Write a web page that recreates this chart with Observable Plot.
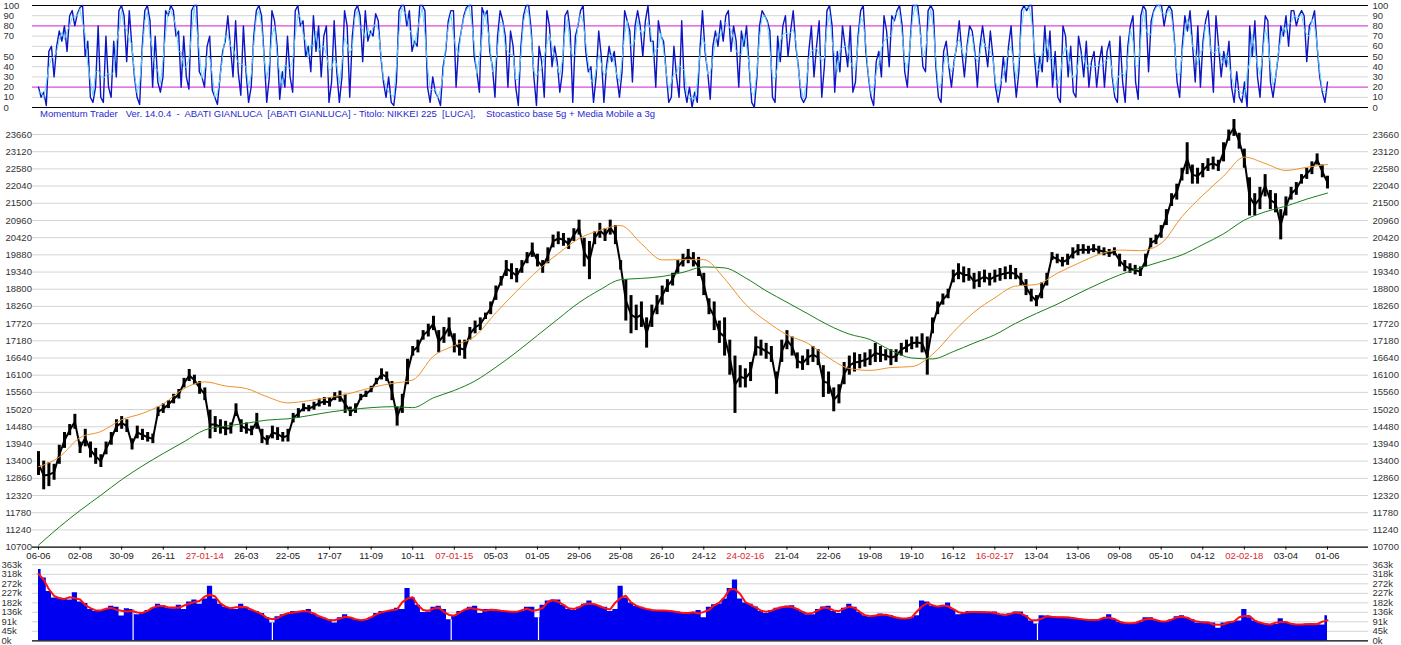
<!DOCTYPE html>
<html><head><meta charset="utf-8">
<script src="https://cdn.jsdelivr.net/npm/d3@7"></script>
<script src="https://cdn.jsdelivr.net/npm/@observablehq/plot@0.6"></script>
<style>
html,body{margin:0;padding:0;background:#fff;}
#wrap{position:relative;width:1401px;height:645px;overflow:hidden;font-family:"Liberation Sans",Arial,sans-serif;}
#wrap > svg{position:absolute;left:0;}
</style></head><body><div id="wrap"></div>
<script>
// ---------- DATA ----------
const xTickLabels = ["06-06","02-08","30-09","26-11","27-01-14","26-03","22-05","17-07","11-09","10-11","07-01-15","05-03","01-05","29-06","25-08","26-10","24-12","24-02-16","21-04","22-06","19-08","19-10","16-12","16-02-17","13-04","13-06","09-08","05-10","04-12","02-02-18","03-04","01-06"];
const yearLabels = ["27-01-14","07-01-15","24-02-16","16-02-17","02-02-18"];
const daysPerTick = 40;
const totalDays = 1240;

const priceTicks = [10700,11240,11780,12320,12860,13400,13940,14480,15020,15560,16100,16640,17180,17720,18260,18800,19340,19880,20420,20960,21500,22040,22580,23120,23660];
const stochLeftLabels = [100,90,80,70,50,40,30,20,10,0];
const stochRightLabels = [100,90,80,70,60,50,40,30,20,10,0];
const stochGrey = [10,30,40,60,70,90];
const stochMagenta = [20,80];
const stochBlack = [0,50,100];
const volTickLabels = ["0k","45k","91k","136k","182k","227k","272k","318k","363k"];
const volMax = 363;

// weekly high / low (every 5 trading days)
const priceHi = [
13700,13400,13350,13300,13900,14300,14550,14870,14000,14400,
14000,13800,13600,14000,14300,14700,14800,14700,14100,14500,
14400,14300,14250,15100,15200,15300,15500,15650,16000,16280,
16100,15900,15700,15000,14800,14700,14650,14600,15200,14700,
14600,14500,14900,14400,14200,14500,14450,14300,14400,14900,
15050,15200,15150,15250,15350,15400,15400,15550,15600,15500,
15100,15200,15500,15600,15750,16000,16300,16200,15900,15100,
15500,16600,17000,17200,17500,17700,17950,17500,17600,17900,
17400,17200,17200,17600,17800,17900,18050,18400,18900,19200,
19700,19600,19450,19700,19950,20250,19900,19700,20100,20500,
20600,20550,20400,20700,20970,20400,20300,20600,20870,20700,
20970,20800,19700,19100,18600,18300,18400,17900,18300,18600,
18900,19100,19300,19700,19900,20050,19950,19800,19300,18500,
18400,17800,17900,17200,16700,16400,16300,16500,17300,17200,
17100,17000,16200,17200,17500,17300,16800,16700,16900,17000,
16900,16400,16200,15700,15800,16500,16700,16800,16750,16800,
16900,17100,17000,16900,16900,16900,17100,17200,17300,17300,
17400,17300,17900,18400,18650,18800,19400,19600,19500,19450,
19300,19350,19400,19300,19400,19450,19500,19550,19450,19300,
19100,18800,18600,19000,19300,19950,19900,19800,19900,20100,
20200,20200,20150,20200,20150,20100,20050,20100,19900,19700,
19600,19550,19500,19900,20400,20500,20800,21300,21800,22100,
22600,23400,22700,22600,22750,22900,22950,22850,23400,23800,
24130,23700,23200,22300,21800,22000,22400,21900,21800,21300,
21700,22000,22150,22400,22600,22800,23050,22700,22350];
const priceLo = [
12950,12500,12600,12800,13300,13800,14200,14400,13640,13850,
13500,13300,13200,13600,13900,14300,14400,14300,13750,14100,
14050,14000,13950,14800,14900,15050,15200,15350,15700,15900,
15800,15500,15300,14100,14300,14250,14200,14250,14800,14300,
14250,14200,14400,13950,13900,14100,14050,14000,14000,14600,
14750,14950,14950,15000,15100,15150,15100,15300,15250,14900,
14800,14900,15300,15400,15550,15800,15950,15900,15300,14500,
14900,15800,16700,16800,17200,17300,17500,16800,17100,17300,
16800,16700,16600,17200,17400,17500,17850,18000,18450,18900,
19200,19100,19000,19300,19600,19800,19500,19300,19600,20100,
20200,20150,20050,20300,20500,19500,19100,20200,20400,20300,
20500,20200,19400,17800,17400,17500,17600,16950,17600,18000,
18300,18700,18900,19300,19500,19600,19500,19200,18600,18000,
17500,17100,16700,16100,14900,15700,15700,15900,16700,16700,
16600,16500,15500,16500,16900,16700,16300,16250,16400,16500,
16400,15400,15500,14950,15200,15800,16100,16200,16300,16350,
16400,16500,16500,16550,16400,16500,16700,16800,16900,16950,
16800,16100,17400,18000,18300,18500,19000,19100,19000,19050,
18800,18850,19000,18900,19000,19050,19100,19100,19100,18900,
18600,18400,18250,18500,18900,19700,19600,19500,19550,19750,
19850,19900,19900,19950,19900,19850,19800,19850,19500,19350,
19300,19250,19200,19500,20100,20200,20400,20800,21400,21600,
22200,22400,22100,22100,22300,22500,22550,22500,22800,23450,
23600,23200,22600,21100,21100,21300,21700,21300,21200,20350,
21100,21600,21750,22100,22250,22400,22700,22300,21950];

// moving averages, every 20 trading days
const orangeMA = [
13220,13530,14140,14330,14700,14900,15200,15680,15890,15760,
15680,15420,15230,15300,15400,15530,15710,15840,15950,16700,
17030,17330,18060,18740,19380,19920,20390,20650,20800,20230,
19720,19730,19730,19130,18330,17800,17370,17100,16650,16310,
16250,16340,16370,16750,17450,18080,18530,18900,18950,19300,
19610,19890,20030,20010,20240,21080,21750,22350,22950,22750,
22530,22630,22720];
const greenMA = [
10760,11330,11850,12330,12820,13250,13640,14010,14380,14500,
14590,14690,14730,14830,14940,15020,15080,15110,15080,15390,
15620,15920,16350,16830,17350,17870,18380,18780,19100,19140,
19200,19330,19500,19470,19160,18750,18390,18030,17670,17390,
17220,16880,16640,16610,16840,17110,17370,17730,18040,18330,
18660,18970,19250,19470,19670,19880,20200,20540,20970,21230,
21410,21630,21820];

// stochastic %K, regularly sampled over the whole period
const stochK = [
20,10,15,2,55,60,30,60,75,65,80,55,90,95,80,92,98,100,50,65,10,5,20,80,10,5,70,20,10,65,30,95,100,90,45,95,60,30,10,3,
60,95,100,85,20,70,25,15,30,95,90,100,95,70,75,20,70,30,18,95,100,100,35,30,20,60,70,17,10,3,30,55,65,90,60,30,85,35,12,80,
35,5,20,70,95,100,90,50,5,30,95,85,60,8,35,20,70,30,15,95,100,80,85,50,60,35,90,55,80,30,70,80,5,25,85,35,5,30,95,80,
10,70,95,100,90,45,95,65,75,70,92,85,50,25,10,30,5,2,25,95,100,100,80,95,55,65,60,100,100,95,20,5,30,15,10,2,40,55,85,95,95,
20,60,75,90,98,100,100,50,35,15,98,90,95,55,40,10,70,95,85,70,20,75,60,20,2,60,90,100,100,75,30,2,60,45,10,95,80,40,60,45,
15,35,90,95,75,5,70,80,95,100,55,35,40,5,30,75,50,5,40,60,45,55,30,10,35,95,85,75,25,80,95,80,50,85,100,65,65,20,85,70,
65,35,5,10,60,30,10,85,20,5,20,0,15,5,55,95,55,35,8,60,75,60,85,65,90,95,55,80,65,20,75,60,80,40,5,0,30,80,95,90,85,75,
10,5,70,45,80,90,50,75,95,60,40,10,5,10,55,80,30,60,85,10,40,95,100,80,15,55,35,80,60,40,80,15,25,70,95,100,55,30,10,2,
45,55,30,90,75,40,90,85,95,100,80,35,20,60,100,100,100,75,40,35,95,100,95,40,10,5,55,65,40,20,45,60,85,55,30,60,80,75,55,20,
60,80,60,40,75,50,20,5,20,50,25,60,80,40,10,35,95,100,95,100,100,50,20,50,35,80,45,75,20,55,10,5,80,70,30,60,15,10,70,55,
30,65,20,45,55,
20,45,60,20,55,65,30,10,5,70,25,5,60,80,90,25,8,90,100,95,35,85,95,100,100,100,80,95,100,95,65,25,10,60,90,75,95,60,25,80,
20,65,85,95,55,15,90,60,30,55,40,65,20,5,35,10,5,25,0,80,50,85,30,10,55,90,85,25,10,30,50,80,70,90,60,95,95,80,90,95,
90,45,80,85,95,60,30,15,5,25];

// weekly volume (thousands)
const volume = [
340,300,235,205,205,200,195,230,185,178,
150,140,145,150,165,160,118,153,150,125,
130,145,155,175,168,155,153,170,150,185,
195,175,200,260,200,175,160,155,150,175,
160,145,140,130,110,85,115,125,130,140,
137,140,150,128,115,108,100,85,110,125,
110,100,98,98,110,130,140,140,145,155,
150,250,205,170,135,137,160,165,150,100,
120,140,145,160,165,130,150,150,145,145,
140,138,137,140,160,160,110,170,190,195,
195,170,150,145,160,175,190,170,165,160,
140,150,260,205,180,165,160,150,145,145,
145,145,140,137,132,130,135,145,110,160,
172,176,200,250,290,200,180,175,161,140,
130,145,155,160,165,168,150,138,125,125,
150,162,165,140,130,155,175,160,135,120,
113,120,128,125,120,110,105,105,110,120,
190,185,165,160,165,180,150,125,135,140,
137,137,137,135,137,125,120,130,137,137,
120,95,80,120,118,113,113,113,113,108,
105,102,100,97,100,105,125,100,89,85,
81,85,89,110,110,97,92,89,100,115,
120,110,100,85,90,89,85,60,85,89,
92,95,150,110,95,85,81,75,78,105,
85,80,78,75,80,82,80,75,120];
const zeroVolumeDays = [91,225,397,481,961];

// ---------- TABLES ----------
const weekly = priceHi.map((h, i) => ({day: i * 5, hi: h, lo: priceLo[i], vol: volume[i]}));
const maRows = orangeMA.map((o, i) => ({day: i * 20, orange: o, green: greenMA[i]}));
const stochStep = totalDays / (stochK.length - 1);
const stochRows = stochK.map((k, i) => ({day: i * stochStep, k}));
const tickDays = xTickLabels.map((_, i) => i * daysPerTick);
const labelOf = d => xTickLabels[Math.round(d / daysPerTick)];
const blackTickDays = tickDays.filter(d => !yearLabels.includes(labelOf(d)));
const redTickDays = tickDays.filter(d => yearLabels.includes(labelOf(d)));
const volTicks = volTickLabels.map((l, i) => ({v: i * volMax / 8, l}));

// ---------- LAYOUT ----------
const W = 1401, ML = 32, MR = 33;
const pxPerDay = (1327 - 38) / totalDays;
const xDomain = [-(38 - ML) / pxPerDay, totalDays + (W - MR - 1327) / pxPerDay];
const font = "Liberation Sans, Arial, sans-serif";
const baseStyle = {background: "transparent", fontFamily: font, fontSize: "10px", overflow: "visible"};
const wrap = document.getElementById("wrap");

// Stochastic panel
const stoch = Plot.plot({
  width: W, height: 112, marginLeft: ML, marginRight: MR, marginTop: 5, marginBottom: 5,
  x: {domain: xDomain, axis: null},
  y: {domain: [0, 100], axis: null},
  style: baseStyle,
  marks: [
    Plot.ruleY(stochGrey, {stroke: "#d4d4d4"}),
    Plot.ruleY(stochMagenta, {stroke: "#d21ed2"}),
    Plot.ruleY(stochBlack, {stroke: "#000"}),
    Plot.line(stochRows, {x: "day", y: "k", stroke: "#0c16c4", strokeWidth: 1.4}),
    Plot.line(stochRows, Plot.windowY({k: 3, anchor: "middle"}, {x: "day", y: "k", stroke: "#62d8f6", strokeWidth: 1, strokeDasharray: "4,1"})),
    Plot.text(stochLeftLabels, {y: d => d, text: d => String(d), frameAnchor: "left", textAnchor: "start", dx: -29, fontSize: 9.5, fill: "#333"}),
    Plot.text(stochRightLabels, {y: d => d, text: d => String(d), frameAnchor: "right", textAnchor: "start", dx: 4, fontSize: 9.5, fill: "#333"})
  ]
});
stoch.style.top = "0px";

// Price panel
const price = Plot.plot({
  width: W, height: 446, marginLeft: ML, marginRight: MR, marginTop: 18, marginBottom: 15.4,
  x: {domain: xDomain},
  y: {domain: [10700, 23660], axis: null},
  style: baseStyle,
  marks: [
    Plot.ruleY(priceTicks.slice(1), {stroke: "#d4d4d4"}),
    Plot.ruleX(weekly, {x: "day", y1: "lo", y2: "hi", stroke: "#000", strokeWidth: 3}),
    Plot.line(weekly, {x: "day", y: d => (d.lo + d.hi) / 2, stroke: "#000", strokeWidth: 2}),
    Plot.line(maRows, {x: "day", y: "green", stroke: "#1a7d1a", strokeWidth: 1, curve: "monotone-x"}),
    Plot.line(maRows, {x: "day", y: "orange", stroke: "#f0902a", strokeWidth: 1, curve: "monotone-x"}),
    Plot.ruleY([10700], {stroke: "#000", strokeWidth: 1.2}),
    Plot.axisX({ticks: blackTickDays, tickFormat: labelOf, tickSize: 3, tickPadding: 2, fontSize: 9.5, label: null, stroke: "#000", fill: "#222"}),
    Plot.axisX({ticks: redTickDays, tickFormat: labelOf, tickSize: 3, tickPadding: 2, fontSize: 9.5, label: null, stroke: "#000", fill: "#e0282c"}),
    Plot.text(priceTicks, {y: d => d, text: d => String(d), frameAnchor: "left", textAnchor: "start", dx: -27, fontSize: 9.5, fill: "#333"}),
    Plot.text(priceTicks, {y: d => d, text: d => String(d), frameAnchor: "right", textAnchor: "start", dx: 4, fontSize: 9.5, fill: "#333"})
  ]
});
price.style.top = "116px";

// Volume panel
const vol = Plot.plot({
  width: W, height: 85, marginLeft: ML, marginRight: MR, marginTop: 4.3, marginBottom: 4.7,
  x: {domain: xDomain, axis: null},
  y: {domain: [0, volMax], axis: null},
  style: baseStyle,
  marks: [
    Plot.ruleY(volTicks.slice(1), {y: "v", stroke: "#d4d4d4"}),
    Plot.areaY(weekly, {x: "day", y: "vol", fill: "#0000f0", curve: "step"}),
    Plot.ruleX(zeroVolumeDays, {x: d => d, y1: 0, y2: d => volume[Math.round(d / 5)], stroke: "#fff", strokeWidth: 1.2}),
    Plot.line(weekly, Plot.windowY({k: 3, anchor: "middle"}, {x: "day", y: "vol", stroke: "#ff1010", strokeWidth: 2})),
    Plot.ruleY([0], {stroke: "#000", strokeWidth: 1.2}),
    Plot.text(volTicks, {y: "v", text: "l", frameAnchor: "left", textAnchor: "start", dx: -31, fontSize: 9.5, fill: "#333"}),
    Plot.text(volTicks, {y: "v", text: "l", frameAnchor: "right", textAnchor: "start", dx: 4, fontSize: 9.5, fill: "#333"})
  ]
});
vol.style.top = "560px";

wrap.appendChild(vol);
wrap.appendChild(price);
wrap.appendChild(stoch);

// Subtitle line
const ns = "http://www.w3.org/2000/svg";
const sub = document.createElementNS(ns, "svg");
sub.setAttribute("width", W); sub.setAttribute("height", 125);
sub.style.top = "0px";
const t = document.createElementNS(ns, "text");
t.setAttribute("x", 40); t.setAttribute("y", 117);
t.setAttribute("font-family", font); t.setAttribute("font-size", "9.5");
t.setAttribute("fill", "#2828d2");
t.setAttribute("textLength", 615); t.setAttribute("lengthAdjust", "spacingAndGlyphs");
t.setAttribute("xml:space", "preserve");
t.style.whiteSpace = "pre";
t.textContent = "Momentum Trader   Ver. 14.0.4  -  ABATI GIANLUCA  [ABATI GIANLUCA] - Titolo: NIKKEI 225  [LUCA],    Stocastico base 5g + Media Mobile a 3g";
sub.appendChild(t);
wrap.appendChild(sub);
</script></body></html>
